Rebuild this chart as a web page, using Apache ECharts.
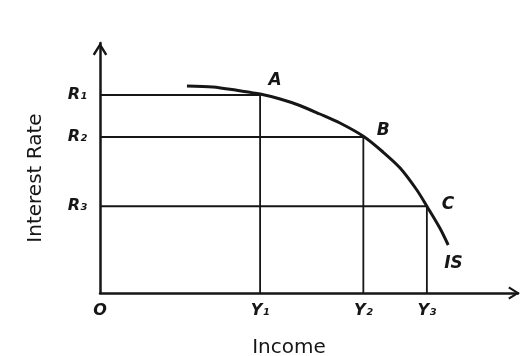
<!DOCTYPE html>
<html>
<head>
<meta charset="utf-8">
<script src="https://cdn.jsdelivr.net/npm/echarts@6/dist/echarts.min.js"></script>
<style>
html,body{margin:0;padding:0;background:#fff;}
#chart{width:528px;height:356px;}
</style>
</head>
<body>
<div id="chart"></div>
<script>
// IS curve points (income, interest rate) in abstract units
var curveX = [2.08, 2.7, 3.3, 3.83, 4.31, 4.78, 5.26, 5.74, 6.3, 6.77, 7.18, 7.58, 7.82, 8.13, 8.33];
var curveY = [8.28, 8.24, 8.1, 7.96, 7.76, 7.5, 7.16, 6.8, 6.27, 5.64, 5.0, 4.12, 3.47, 2.6, 1.92];

// points A, B, C on the curve
var pointNames = ['A', 'B', 'C'];
var pointX = [3.83, 6.3, 7.82];
var pointY = [7.92, 6.24, 3.47];

// tick labels
var incomeLabels = ['O', 'Y₁', 'Y₂', 'Y₃'];
var rateLabels = ['R₁', 'R₂', 'R₃'];

var incomeTicks = [0].concat(pointX);
var rateTicks = pointY.slice();

var ink = '#161616';
var chevron = 'path://M5,0 L10,8 L8.6,8.9 L5,3 L1.4,8.9 L0,8 Z';

var myChart = echarts.init(document.getElementById('chart'));

var curveData = curveX.map(function (x, i) { return [x, curveY[i]]; });

// guide lines R -> point -> Y
var guideSeries = pointX.map(function (x, i) {
    return {
        type: 'line',
        data: [[0, pointY[i]], [x, pointY[i]], [x, 0]],
        symbol: 'none',
        silent: true,
        lineStyle: {color: ink, width: 1.8},
        z: 2
    };
});

var labelOffsets = [[15, -14], [20, -6], [21, -2]];

var option = {
    backgroundColor: '#ffffff',
    animation: false,
    grid: {left: 100, right: 10, top: 43, bottom: 63, containLabel: false, outerBoundsMode: 'none'},
    xAxis: {
        type: 'value',
        min: 0,
        max: 10,
        name: 'Income',
        nameLocation: 'middle',
        nameGap: 45,
        nameTextStyle: {color: ink, fontSize: 20, fontFamily: 'DejaVu Sans', padding: [0, 40, 0, 0]},
        axisLine: {
            show: true,
            symbol: ['none', chevron],
            symbolSize: [13, 16],
            symbolOffset: [0, -4],
            lineStyle: {color: ink, width: 2.5}
        },
        axisTick: {show: false},
        splitLine: {show: false},
        axisLabel: {
            customValues: incomeTicks,
            margin: 10,
            color: ink,
            fontSize: 16,
            fontStyle: 'italic',
            fontWeight: 'bold',
            fontFamily: 'DejaVu Sans',
            formatter: function (v) {
                var i = incomeTicks.indexOf(v);
                return i < 0 ? '' : incomeLabels[i];
            }
        }
    },
    yAxis: {
        type: 'value',
        min: 0,
        max: 10,
        name: 'Interest Rate',
        nameLocation: 'middle',
        nameRotate: 90,
        nameGap: 54,
        nameTextStyle: {color: ink, fontSize: 20, fontFamily: 'DejaVu Sans', padding: [0, 20, 0, 0]},
        axisLine: {
            show: true,
            symbol: ['none', chevron],
            symbolSize: [16, 13],
            symbolOffset: [0, -6],
            lineStyle: {color: ink, width: 2.5}
        },
        axisTick: {show: false},
        splitLine: {show: false},
        axisLabel: {
            customValues: rateTicks,
            margin: 13,
            color: ink,
            fontSize: 16,
            fontStyle: 'italic',
            fontWeight: 'bold',
            fontFamily: 'DejaVu Sans',
            formatter: function (v) {
                var i = rateTicks.indexOf(v);
                return i < 0 ? '' : rateLabels[i];
            }
        }
    },
    series: guideSeries.concat([
        {
            type: 'line',
            name: 'IS',
            data: curveData,
            smooth: 0.3,
            symbol: 'none',
            lineStyle: {color: ink, width: 3},
            endLabel: {
                show: true,
                formatter: 'IS',
                offset: [-12, 19],
                color: ink,
                fontSize: 17,
                fontStyle: 'italic',
                fontWeight: 'bold',
                fontFamily: 'DejaVu Sans'
            },
            z: 3
        },
        {
            type: 'scatter',
            symbolSize: 0,
            silent: true,
            itemStyle: {color: ink, opacity: 1},
            data: pointX.map(function (x, i) {
                return {
                    value: [x, pointY[i]],
                    label: {offset: labelOffsets[i]}
                };
            }),
            label: {
                show: true,
                position: 'inside',
                color: ink,
                textBorderWidth: 0,
                fontSize: 17,
                fontStyle: 'italic',
                fontWeight: 'bold',
                fontFamily: 'DejaVu Sans',
                formatter: function (p) { return pointNames[p.dataIndex]; }
            },
            z: 4
        }
    ])
};

myChart.setOption(option);
</script>
</body>
</html>
